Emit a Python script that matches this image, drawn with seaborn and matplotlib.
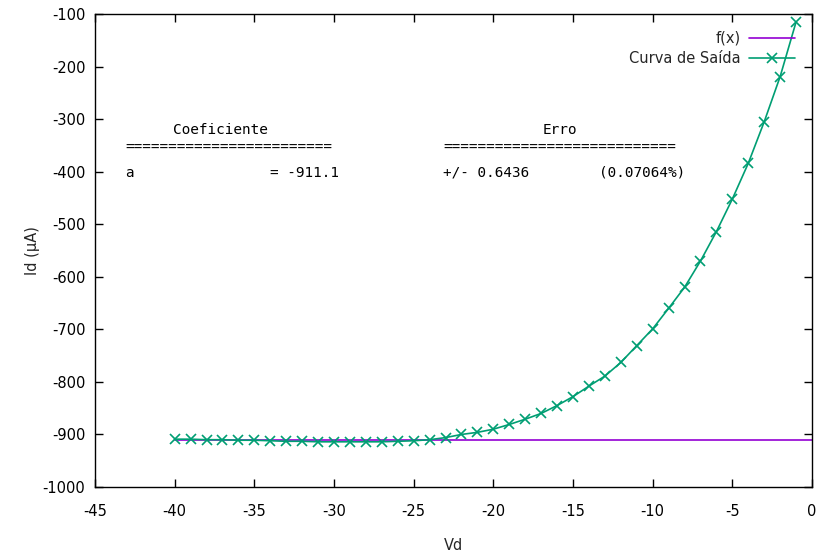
import numpy as np
import pandas as pd
import matplotlib
matplotlib.use("Agg")
import matplotlib.pyplot as plt
import seaborn as sns

# Measured output curve: drain voltage (V) and drain current (uA)
vd = [-40, -39, -38, -37, -36, -35, -34, -33, -32, -31,
      -30, -29, -28, -27, -26, -25, -24, -23, -22, -21,
      -20, -19, -18, -17, -16, -15, -14, -13, -12, -11,
      -10, -9, -8, -7, -6, -5, -4, -3, -2, -1]
id_ua = [-909, -909, -910, -910, -911, -911, -912, -913, -913, -914,
         -914, -914, -914, -914, -913, -912, -910, -906, -900, -896,
         -890, -881, -871, -860, -845, -828, -808, -789, -763, -731,
         -699, -660, -620, -570, -514, -452, -384, -305, -219, -115]

# Constant fit f(x) = a
fit_a = -911.1
fit_err = 0.6436
fit_rel = 0.07064
fit_x = [-40, 0]

x_ticks = [-45, -40, -35, -30, -25, -20, -15, -10, -5, 0]
y_ticks = [-1000, -900, -800, -700, -600, -500, -400, -300, -200, -100]

sns.set_theme(style="white")
plt.rcParams["font.family"] = ["DejaVu Sans"]

fig = plt.figure(figsize=(8.17, 5.56), dpi=100)
ax = fig.add_axes([0.1163, 0.1241, 0.8776, 0.8507])

purple = "#9400d3"
green = "#009e73"

fit_df = pd.DataFrame({"Vd": fit_x, "Id": [fit_a] * len(fit_x)})
data_df = pd.DataFrame({"Vd": vd, "Id": id_ua})

sns.lineplot(data=fit_df, x="Vd", y="Id", ax=ax, color=purple,
             linewidth=1.2, label="f(x)")
sns.lineplot(data=data_df, x="Vd", y="Id", ax=ax, color=green,
             linewidth=1.2, marker="x", markersize=7, markeredgewidth=1.2,
             markeredgecolor=green, label="Curva de Saída")

ax.set_xlim(-45, 0)
ax.set_ylim(-1000, -100)
ax.set_xticks(x_ticks)
ax.set_yticks(y_ticks)
ax.set_xticklabels([str(v) for v in x_ticks], fontsize=10.5)
ax.set_yticklabels([str(v) for v in y_ticks], fontsize=10.5)
ax.tick_params(axis="both", direction="in", length=6, width=1,
               top=True, right=True, bottom=True, left=True,
               labeltop=False, labelright=False, colors="black")
ax.tick_params(axis="x", pad=12)
ax.tick_params(axis="y", pad=7)
for sp in ax.spines.values():
    sp.set_visible(True)
    sp.set_color("black")
    sp.set_linewidth(1)

ax.set_xlabel("Vd", fontsize=10.5, labelpad=14)
ax.set_ylabel("Id (µA)", fontsize=10.5, labelpad=2)

leg = ax.legend(loc="upper right", frameon=False, markerfirst=False,
                fontsize=10.5, handlelength=3.2, handletextpad=0.55,
                labelspacing=0.38, borderaxespad=0.75)

# Fit report text block
mono = dict(family="DejaVu Sans Mono", fontsize=10.4, color="black", va="center")
ax.text(-37.15, -320, "Coeficiente", ha="center", **mono)
ax.text(-43.12, -355, "=" * 24, ha="left", **mono)
ax.text(-43.12, -402, "a", ha="left", **mono)
ax.text(-34.02, -402, f"= {fit_a}", ha="left", **mono)
ax.text(-15.82, -320, "Erro", ha="center", **mono)
ax.text(-23.16, -355, "=" * 27, ha="left", **mono)
ax.text(-23.16, -402, f"+/- {fit_err}", ha="left", **mono)
ax.text(-13.37, -402, f"({fit_rel}%)", ha="left", **mono)

fig.savefig("out.png", dpi=100)
